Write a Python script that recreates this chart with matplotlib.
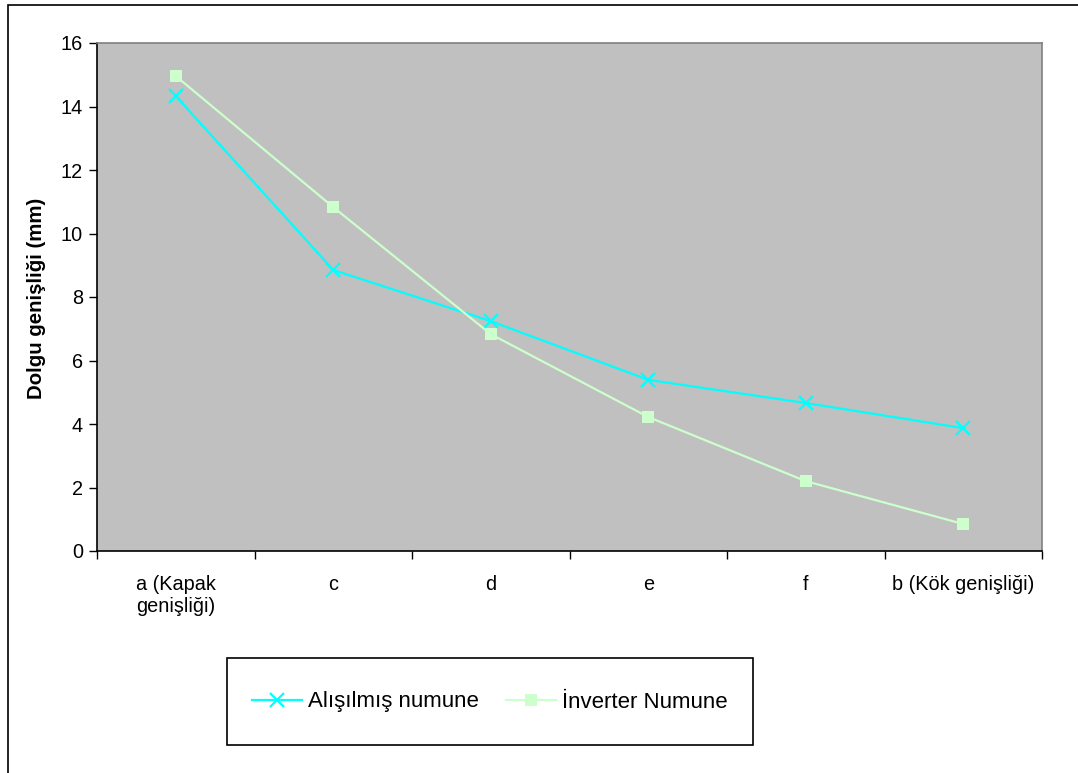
import numpy as np
import matplotlib as mpl
mpl.use('Agg')
import matplotlib.pyplot as plt
from matplotlib.patches import Rectangle
from matplotlib.lines import Line2D

plt.rcParams['font.family'] = ['Liberation Sans', 'DejaVu Sans']

categories = ['a (Kapak\ngenişliği)', 'c', 'd', 'e', 'f', 'b (Kök genişliği)']
alisilmis = [14.33, 8.85, 7.24, 5.39, 4.66, 3.87]
inverter = [14.96, 10.83, 6.83, 4.22, 2.20, 0.85]
series_names = ['Alışılmış numune', 'İnverter Numune']

W, H = 1078, 773
fig = plt.figure(figsize=(W / 100, H / 100), dpi=100)
fig.patch.set_facecolor('white')

# outer chart frame
fig.patches.append(Rectangle((8 / W, -0.05), 1.2, 1 - 5 / H + 0.05,
                             transform=fig.transFigure, fill=False,
                             edgecolor='black', linewidth=1.2))

ax = fig.add_axes([97 / W, 1 - 551 / H, (1042 - 97) / W, (551 - 43) / H])
ax.set_facecolor('#C0C0C0')

x = np.arange(len(categories))
ax.plot(x, alisilmis, color='#00FFFF', lw=1.6, marker='x', ms=10, mew=1.6)
ax.plot(x, inverter, color='#CCFFCC', lw=1.6, marker='s', ms=8, mew=0)

ax.set_xlim(-0.5, len(categories) - 0.5)
ax.set_ylim(0, 16)
ax.set_yticks(np.arange(0, 17, 2))
ax.set_xticks(x)
ax.set_xticklabels(categories, fontsize=14.3, linespacing=1.25)
ax.set_xticks(np.arange(-0.5, len(categories)), minor=True)
ax.tick_params(axis='x', which='major', length=0, pad=17)
ax.tick_params(axis='x', which='minor', length=6, direction='out', width=1)
ax.tick_params(axis='y', length=6, direction='out', width=1, labelsize=14.3, pad=4)

for side in ['left', 'bottom']:
    ax.spines[side].set_color('black')
    ax.spines[side].set_linewidth(1.2)
for side in ['top', 'right']:
    ax.spines[side].set_color('#808080')
    ax.spines[side].set_linewidth(1.2)

fig.text(37 / W, 1 - 298 / H, 'Dolgu genişliği (mm)', rotation=90,
         ha='center', va='center', fontsize=14.7, fontweight='bold')

# legend box
fig.patches.append(Rectangle((227 / W, 1 - 745 / H), (753 - 227) / W, (745 - 658) / H,
                             transform=fig.transFigure, fill=False,
                             edgecolor='black', linewidth=1.2))
handles = [Line2D([], [], color='#00FFFF', lw=1.6, marker='x', ms=10, mew=1.6),
           Line2D([], [], color='#CCFFCC', lw=1.6, marker='s', ms=8, mew=0)]
fig.legend(handles, series_names, loc='center', ncol=2,
           bbox_to_anchor=(490 / W, 1 - 702 / H), frameon=False,
           fontsize=16, handlelength=2.25, handletextpad=0.27, columnspacing=1.2)

fig.savefig('out.png', dpi=100)
plt.close(fig)
